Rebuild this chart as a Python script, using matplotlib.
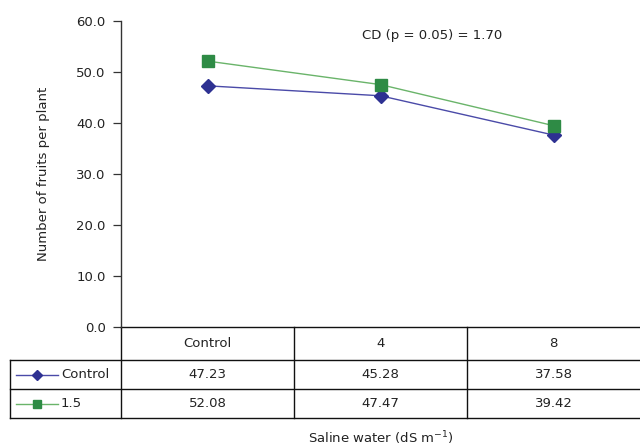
import matplotlib
matplotlib.use("Agg")
import matplotlib.pyplot as plt
from matplotlib.lines import Line2D

plt.rcParams['font.family'] = ['DejaVu Sans']

categories = ["Control", "4", "8"]
series_names = ["Control", "1.5"]
control_vals = [47.23, 45.28, 37.58]
s15_vals = [52.08, 47.47, 39.42]
yticks = [0.0, 10.0, 20.0, 30.0, 40.0, 50.0, 60.0]
cd_text = "CD (p = 0.05) = 1.70"

W, H = 640, 448
fig = plt.figure(figsize=(W / 100, H / 100), dpi=100)

# axes box in pixel terms
left_px, right_px, top_px, bottom_px = 121, 640, 20.7, 326.7
ax = fig.add_axes([left_px / W, 1 - bottom_px / H,
                   (right_px - left_px) / W, (bottom_px - top_px) / H])

blue_mk, blue_ln = "#2E3192", "#4A4AA8"
green_mk, green_ln = "#2E8B45", "#6AB46A"
x = list(range(len(categories)))

ax.plot(x, control_vals, color=blue_ln, lw=1.0, marker="D", ms=7.5,
        mfc=blue_mk, mec=blue_mk, zorder=3)
ax.plot(x, s15_vals, color=green_ln, lw=1.0, marker="s", ms=9,
        mfc=green_mk, mec=green_mk, zorder=4)

ax.set_xlim(-0.5, len(categories) - 0.5)
ax.set_ylim(0, 60)
ax.set_yticks(yticks)
ax.set_yticklabels([f"{v:.1f}" for v in yticks], fontsize=9.5, color="#222222")
ax.tick_params(axis="y", direction="out", length=6, width=0.9, colors="#333333",
               labelcolor="#222222", pad=5)
ax.set_xticks([])
for s in ["top", "right", "bottom"]:
    ax.spines[s].set_visible(False)
ax.spines["left"].set_color("#333333")
ax.spines["left"].set_linewidth(1.0)

ax.set_ylabel("Number of fruits per plant", fontsize=9.5, color="#222222", labelpad=19)

# data table beneath the axes
ax_h = bottom_px - top_px
ax_w = right_px - left_px


def fy(py):
    return 1 - (py - top_px) / ax_h


def fx(px):
    return (px - left_px) / ax_w


ax.text(0.6, fy(36), cd_text, transform=ax.transAxes, fontsize=9.5,
        ha="center", va="center", color="#222222")

row_y = [326.7, 360, 389, 418]
tbl_left = 10
lc = "#111111"
lw = 1.0
trans_mix = ax.get_xaxis_transform()  # x data, y axes
# horizontal rules
ax.plot([-0.5, 2.5], [fy(row_y[0])] * 2, transform=trans_mix, color=lc, lw=lw,
        clip_on=False)
for yy in row_y[1:]:
    ax.add_line(Line2D([fx(tbl_left), 1.0], [fy(yy)] * 2, transform=ax.transAxes,
                       color=lc, lw=lw, clip_on=False))
# vertical rules
for xb in [0.5, 1.5]:
    ax.plot([xb, xb], [fy(row_y[0]), fy(row_y[-1])], transform=trans_mix,
            color=lc, lw=lw, clip_on=False)
ax.add_line(Line2D([0, 0], [fy(row_y[0]), fy(row_y[-1])], transform=ax.transAxes,
                   color=lc, lw=lw, clip_on=False))
ax.add_line(Line2D([fx(tbl_left)] * 2, [fy(row_y[1]), fy(row_y[-1])],
                   transform=ax.transAxes, color=lc, lw=lw, clip_on=False))

fs = 9.5
for i, c in enumerate(categories):
    ax.text(i, fy((row_y[0] + row_y[1]) / 2), c, transform=trans_mix, ha="center",
            va="center", fontsize=fs, color="#222222")
rows = [(control_vals, blue_ln, blue_mk, "D", 5), (s15_vals, green_ln, green_mk, "s", 5.5)]
for r, (vals, lcol, mcol, mk, ms) in enumerate(rows):
    yc = fy((row_y[r + 1] + row_y[r + 2]) / 2)
    for i, v in enumerate(vals):
        ax.text(i, yc, f"{v:.2f}", transform=trans_mix, ha="center", va="center",
                fontsize=fs, color="#222222")
    ax.add_line(Line2D([fx(16), fx(58)], [yc, yc], transform=ax.transAxes,
                       color=lcol, lw=1.0, clip_on=False))
    ax.add_line(Line2D([fx(37)], [yc], transform=ax.transAxes, marker=mk, ms=ms,
                       mfc=mcol, mec=mcol, lw=0, clip_on=False))
    ax.text(fx(61), yc, series_names[r], transform=ax.transAxes, ha="left",
            va="center", fontsize=fs, color="#222222")

fig.text((left_px + right_px) / 2 / W, 1 - 438 / H, "Saline water (dS m$^{-1}$)",
         ha="center", va="center", fontsize=9.5, color="#222222")

fig.savefig("out.png", dpi=100)
